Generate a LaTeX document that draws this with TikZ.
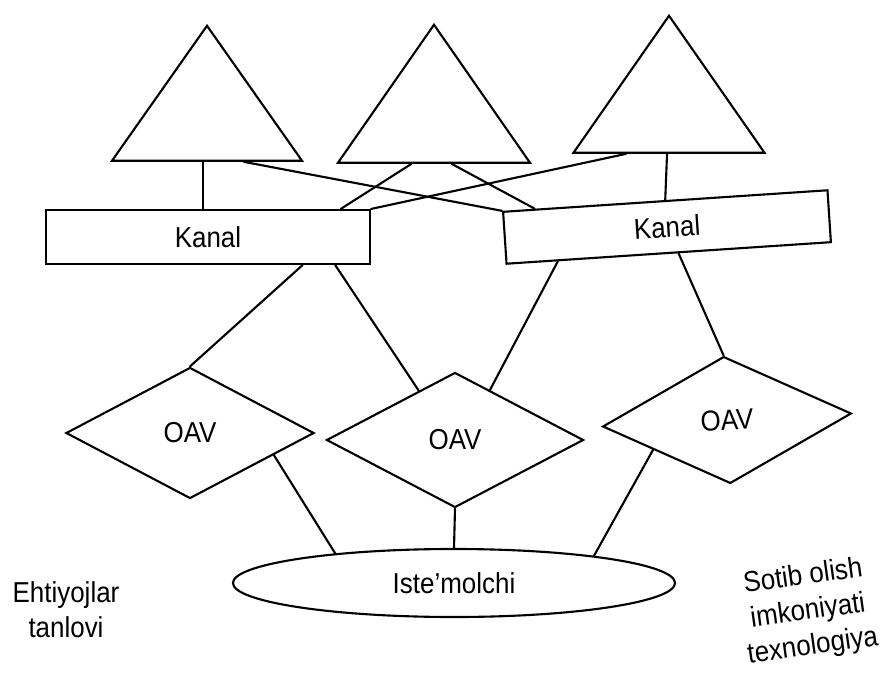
\documentclass[tikz,border=0pt]{standalone}
\usepackage{fontspec}
\setmainfont{Liberation Sans}[FakeStretch=0.9]
\usetikzlibrary{shapes.geometric, calc}

\begin{document}
\begin{tikzpicture}[x=0.025cm, y=-0.025cm,
    every node/.style={font=\fontsize{20.5}{25}\selectfont},
    link/.style={line width=1.5pt, line cap=round},
    source/.style={draw, line width=1.5pt, isosceles triangle,
      shape border rotate=90, isosceles triangle stretches,
      anchor=apex, inner sep=0pt},
    channel/.style={draw, line width=1.5pt, rectangle, inner sep=0pt,
      minimum width=8.1cm, minimum height=1.35cm},
    media/.style={draw, line width=1.5pt, diamond, inner sep=0pt}]
  % frame of the page
  \useasboundingbox (0,0) rectangle (880,682);

  % sources (triangles)
  \node[source, minimum width=4.75cm, minimum height=3.375cm] (t1) at (207,23) {};
  \node[source, minimum width=4.8cm, minimum height=3.45cm] (t2) at (434,22) {};
  \node[source, minimum width=4.775cm, minimum height=3.425cm] (t3) at (669,13) {};

  % channels
  \node[channel] (k1) at (208,237) {Kanal};
  \node[channel, minimum width=8.125cm, minimum height=1.3cm, rotate=3.8]
    (k2) at (667,227) {Kanal};

  % mass media
  \node[media, minimum width=6.2cm, minimum height=3.275cm] (d1) at (190,433) {OAV};
  \node[media, minimum width=6.425cm, minimum height=3.375cm] (d2) at (455,440) {OAV};
  \node[media, minimum width=6.225cm, minimum height=3.175cm, rotate=3]
    (d3) at (727,420) {OAV};

  % consumer
  \node[draw, line width=1.5pt, ellipse, inner sep=0pt,
        minimum width=11.05cm, minimum height=1.7cm] (e) at (454,583)
    {Iste’molchi\hspace{0.4cm}};

  % side notes
  \node[align=center] (need) at (66,610) {Ehtiyojlar\\tanlovi};
  \node[align=center, rotate=8] (buy) at (808,612)
    {Sotib olish\\imkoniyati\\texnologiya};

  % points on the triangle bases
  \coordinate (t1a) at ($(t1.left corner)!0.48!(t1.right corner)$);
  \coordinate (t1b) at ($(t1.left corner)!0.69!(t1.right corner)$);
  \coordinate (t2a) at ($(t2.left corner)!0.385!(t2.right corner)$);
  \coordinate (t2b) at ($(t2.left corner)!0.59!(t2.right corner)$);
  \coordinate (t3a) at ($(t3.left corner)!0.28!(t3.right corner)$);
  \coordinate (t3b) at ($(t3.left corner)!0.49!(t3.right corner)$);

  % triangles to channels
  \draw[link] (t1a) -- (t1a |- k1.north);
  \draw[link] (t1b) -- (k2.north west);
  \draw[link] (t2a) -- ($(k1.north west)!0.907!(k1.north east)$);
  \draw[link] (t2b) -- ($(k2.north west)!0.1!(k2.north east)$);
  \draw[link] (t3a) -- (k1.north east);
  \draw[link] (t3b) -- (k2.north);

  % channels to media
  \draw[link] ($(k1.south west)!0.79!(k1.south east)$) -- (d1.north);
  \draw[link] ($(k1.south west)!0.89!(k1.south east)$) -- ($(d2.north)!0.28!(d2.west)$);
  \draw[link] ($(k2.south west)!0.16!(k2.south east)$) -- ($(d2.north)!0.27!(d2.east)$);
  \draw[link] ($(k2.south west)!0.53!(k2.south east)$) -- (d3.north);

  % media to consumer
  \draw[link] ($(d1.east)!0.33!(d1.south)$) -- (e.166);
  \draw[link] (d2.south) -- (e.north);
  \draw[link] ($(d3.west)!0.4!(d3.south)$) -- (e.11);
\end{tikzpicture}
\end{document}
